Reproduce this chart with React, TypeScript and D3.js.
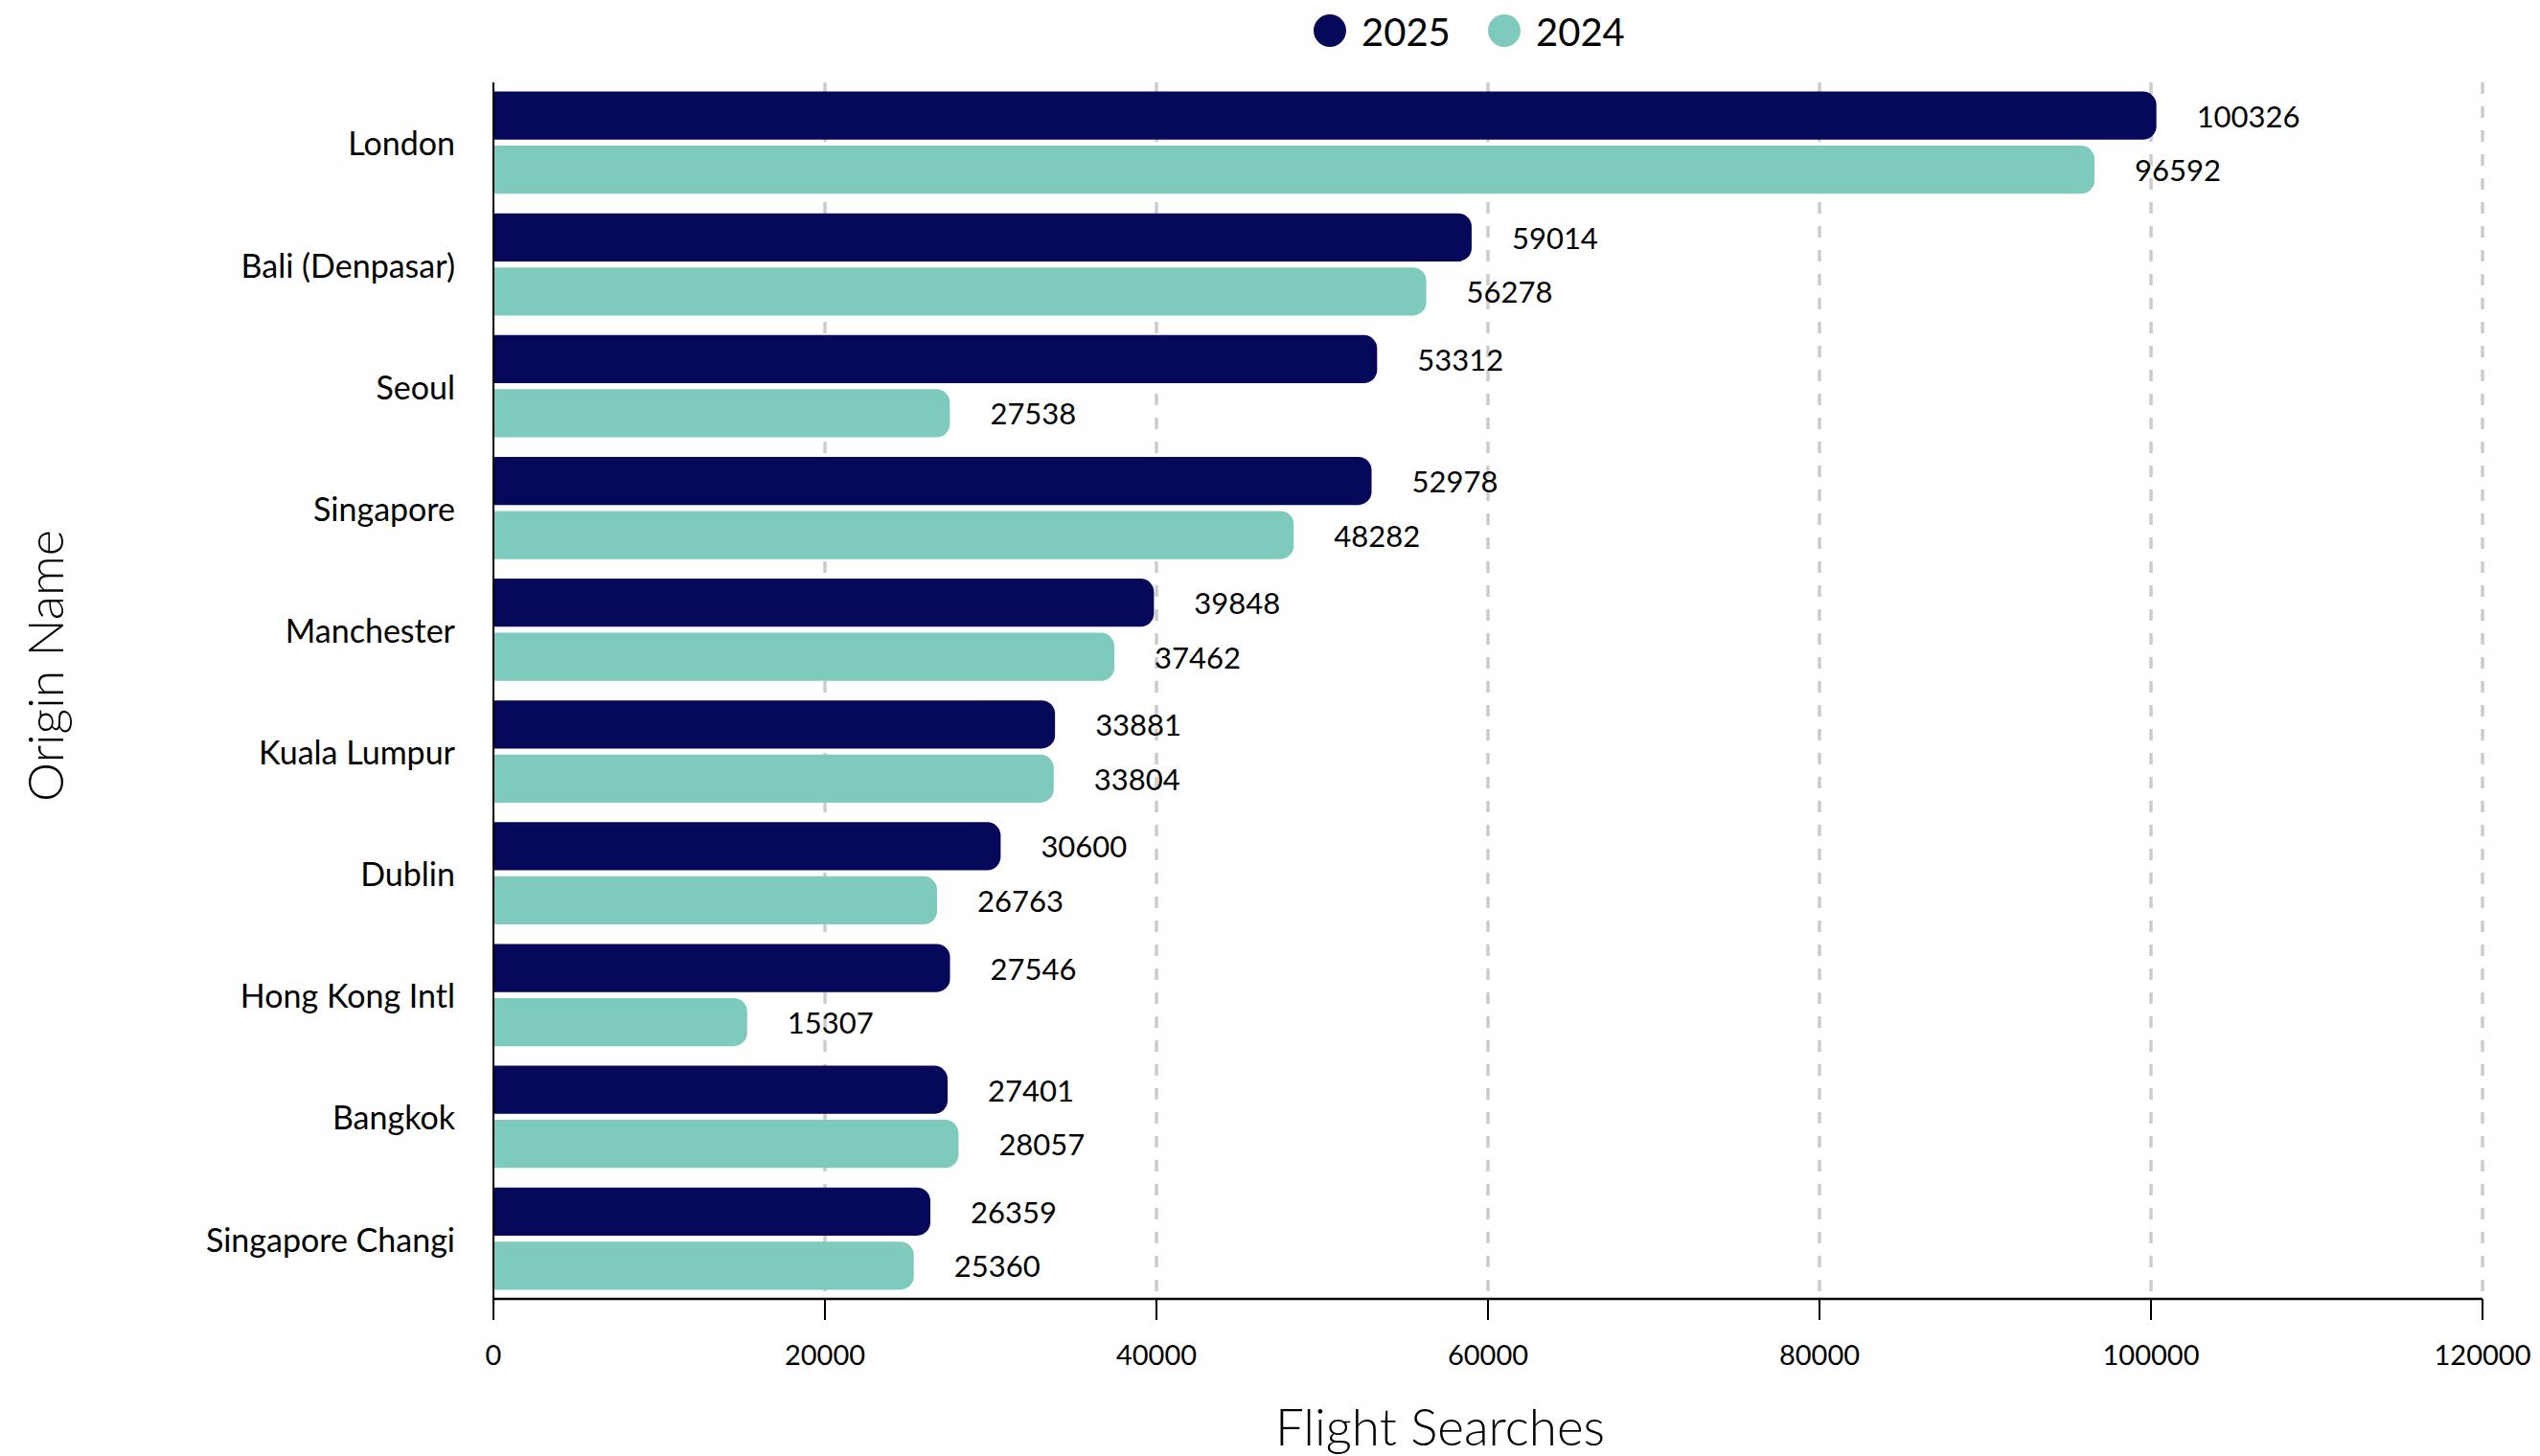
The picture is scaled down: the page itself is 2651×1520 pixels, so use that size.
import React, { useEffect } from "react";
import * as d3 from "d3";

const categories = [
  "London",
  "Bali (Denpasar)",
  "Seoul",
  "Singapore",
  "Manchester",
  "Kuala Lumpur",
  "Dublin",
  "Hong Kong Intl",
  "Bangkok",
  "Singapore Changi",
];
const values2025 = [100326, 59014, 53312, 52978, 39848, 33881, 30600, 27546, 27401, 26359];
const values2024 = [96592, 56278, 27538, 48282, 37462, 33804, 26763, 15307, 28057, 25360];
const seriesNames = ["2025", "2024"];
const seriesColors = ["#06085a", "#7ecabc"];
const xTicks = [0, 20000, 40000, 60000, 80000, 100000, 120000];

const W = 2651;
const H = 1520;
const left = 515;
const right = 2591;
const top = 86;
const bottom = 1356;
const FONT = "Lato, 'Noto Sans', sans-serif";

function barPath(x0: number, x1: number, y0: number, h: number, r: number) {
  const rr = Math.min(r, (x1 - x0), h / 2);
  return `M${x0},${y0}H${x1 - rr}A${rr},${rr} 0 0 1 ${x1},${y0 + rr}V${y0 + h - rr}A${rr},${rr} 0 0 1 ${x1 - rr},${y0 + h}H${x0}Z`;
}

export default function App() {
  useEffect(() => {
    document.body.style.margin = "0";
  }, []);

  const x = d3.scaleLinear().domain([0, 120000]).range([left, right]);
  const y = d3
    .scaleBand<string>()
    .domain(categories)
    .range([top, bottom])
    .paddingInner(0.16)
    .paddingOuter(0.075);
  const sub = d3
    .scaleBand<string>()
    .domain(seriesNames)
    .range([0, y.bandwidth()])
    .paddingInner(0.11);
  const series = [values2025, values2024];

  return (
    <svg width={W} height={H} style={{ display: "block", background: "#fff" }}>
      {/* grid */}
      {xTicks.slice(1).map((t) => (
        <line
          key={"g" + t}
          x1={x(t)}
          x2={x(t)}
          y1={top}
          y2={bottom}
          stroke="#cccccc"
          strokeWidth={3.5}
          strokeDasharray="12 13"
        />
      ))}
      {/* bars */}
      {categories.map((c, i) =>
        series.map((vals, si) => {
          const y0 = (y(c) as number) + (sub(seriesNames[si]) as number);
          const h = sub.bandwidth();
          return (
            <g key={c + si}>
              <path d={barPath(x(0), x(vals[i]), y0, h, 14)} fill={seriesColors[si]} />
              <text
                x={x(vals[i]) + 42}
                y={y0 + h / 2}
                dominantBaseline="central"
                fontFamily={FONT}
                fontSize={31}
                fill="#000"
              >
                {vals[i]}
              </text>
            </g>
          );
        })
      )}
      {/* y axis */}
      <line x1={left} x2={left} y1={top} y2={bottom} stroke="#000" strokeWidth={2} />
      {categories.map((c) => (
        <text
          key={"yl" + c}
          x={left - 40}
          y={(y(c) as number) + y.bandwidth() / 2}
          textAnchor="end"
          dominantBaseline="central"
          fontFamily={FONT}
          fontSize={34}
          fill="#000"
        >
          {c}
        </text>
      ))}
      {/* x axis */}
      <line x1={left} x2={right} y1={bottom} y2={bottom} stroke="#000" strokeWidth={2.5} />
      {xTicks.map((t) => (
        <g key={"xt" + t}>
          <line x1={x(t)} x2={x(t)} y1={bottom} y2={bottom + 22} stroke="#000" strokeWidth={2} />
          <text
            x={x(t)}
            y={bottom + 57}
            textAnchor="middle"
            dominantBaseline="central"
            fontFamily={FONT}
            fontSize={29}
            fill="#000"
          >
            {t}
          </text>
        </g>
      ))}
      {/* axis titles */}
      <text
        x={1503}
        y={1488}
        textAnchor="middle"
        dominantBaseline="central"
        fontFamily={FONT}
        fontWeight={300}
        fontSize={53}
        fill="#000"
      >
        Flight Searches
      </text>
      <text
        transform={`translate(46,695) rotate(-90)`}
        textAnchor="middle"
        dominantBaseline="central"
        fontFamily={FONT}
        fontWeight={300}
        fontSize={52}
        fill="#000"
      >
        Origin Name
      </text>
      {/* legend */}
      {seriesNames.map((s, i) => {
        const cx = [1388, 1570][i];
        return (
          <g key={"lg" + s}>
            <circle cx={cx} cy={32} r={17} fill={seriesColors[i]} />
            <text
              x={cx + 33}
              y={33}
              dominantBaseline="central"
              fontFamily={FONT}
              fontSize={40}
              fill="#000"
            >
              {s}
            </text>
          </g>
        );
      })}
    </svg>
  );
}
